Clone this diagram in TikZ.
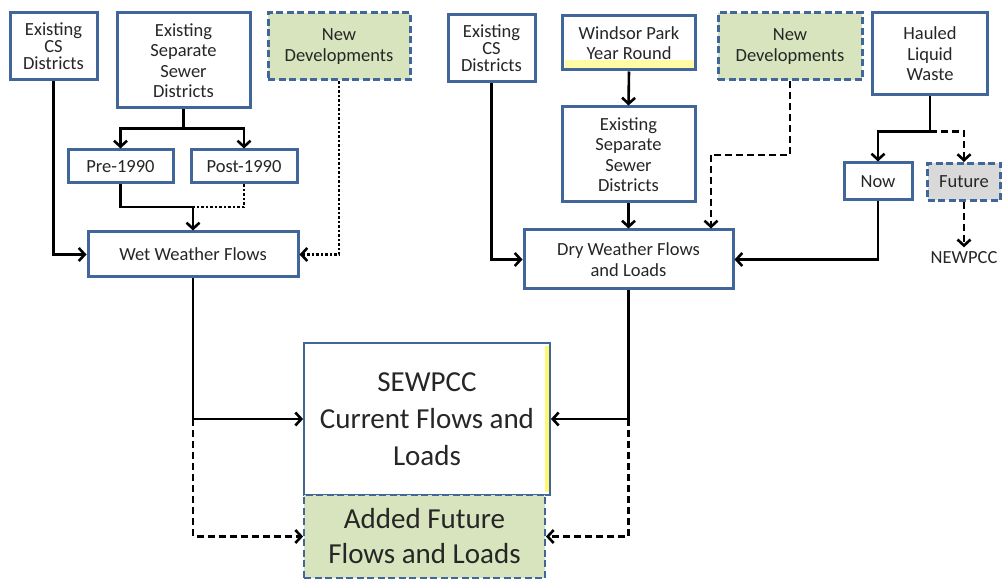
\documentclass[tikz,border=0pt]{standalone}
\usepackage{fontspec}
\setmainfont{Carlito}
\usetikzlibrary{arrows.meta, positioning}
\definecolor{boxline}{HTML}{41679A}
\definecolor{newfill}{HTML}{D7E4BD}
\definecolor{futfill}{HTML}{D9D9D9}
\tikzstyle{blk}=[draw=boxline, line width=3pt, fill=white, align=center, inner sep=0pt,
  text=black!85, font=\fontsize{18.5}{20.5}\selectfont]
\tikzstyle{newblk}=[blk, fill=newfill, dash pattern=on 7pt off 3.5pt]
\tikzstyle{flow}=[line width=2.6pt, >={Straight Barb[length=6pt,width=13pt]}]

\begin{document}
\begin{tikzpicture}[x=1pt, y=-1pt, flow]
  \useasboundingbox (0,0) rectangle (1002,580);
  % wet weather side
  \node[blk, minimum width=87, minimum height=67, font=\fontsize{18.5}{17}\selectfont] (cs1) at (53.5,46.5) {Existing\\CS\\Districts};
  \node[blk, minimum width=133, minimum height=95] (sep1) at (183.5,60.5) {Existing\\Separate\\Sewer\\Districts};
  \node[newblk, minimum width=142, minimum height=67] (new1) at (339,46.5) {New\\Developments};
  \node[blk, minimum width=105, minimum height=33] (pre) at (120.5,166.5) {Pre-1990};
  \node[blk, minimum width=106, minimum height=33] (post) at (244,166.5) {Post-1990};
  \node[blk, minimum width=210, minimum height=45] (wet) at (193,254.5) {Wet Weather Flows};
  % dry weather side
  \node[blk, minimum width=87, minimum height=67, font=\fontsize{18.5}{17}\selectfont] (cs2) at (491.5,48.5) {Existing\\CS\\Districts};
  \node[blk, minimum width=133, minimum height=54] (wind) at (629,43) {Windsor Park\\Year Round};
  \node[blk, minimum width=133, minimum height=95] (sep2) at (628.5,154.5) {Existing\\Separate\\Sewer\\Districts};
  \node[blk, minimum width=209, minimum height=59] (dry) at (628.5,259.5) {Dry Weather Flows\\and Loads};
  \node[newblk, minimum width=144, minimum height=67] (new2) at (790,46.5) {New\\Developments};
  \node[blk, minimum width=115, minimum height=82] (haul) at (930,54) {Hauled\\Liquid\\Waste};
  \node[blk, minimum width=68, minimum height=37] (now) at (878,181.5) {Now};
  \node[newblk, fill=futfill, minimum width=73, minimum height=37] (fut) at (964,182) {Future};
  \node[text=black!85, font=\fontsize{18.5}{20}\selectfont] (newpcc) at (964,258) {NEWPCC};
  % plant
  \node[blk, line width=1.8pt, minimum width=246, minimum height=152, font=\fontsize{29}{37}\selectfont] (sew) at (427,419) {SEWPCC\\Current Flows and\\Loads};
  \node[newblk, line width=1.8pt, minimum width=241, minimum height=83, font=\fontsize{29}{35}\selectfont] (add) at (424.5,536.5) {Added Future\\Flows and Loads};
  \fill[yellow!35] (565,60) rectangle (694,68);
  \fill[yellow!55] (545,346) rectangle (548.5,492);

  % connectors, left
  \draw (sep1.south) -- ++(0,19) coordinate (b1);
  \draw[->] (b1) -| (pre.north);
  \draw[->] (b1) -| (post.north);
  \coordinate (j1) at (193,207);
  \draw (pre.south) |- (j1);
  \draw[dash pattern=on 2.5pt off 2pt] (post.south) |- (j1);
  \draw[->] (j1) -- (wet.north);
  \draw[->] (cs1.south) |- (wet.west);
  \draw[->, dash pattern=on 2.5pt off 2pt] (new1.south) |- (wet.east);
  \draw[->] (wet.south) |- (sew.west);
  \draw[->, dash pattern=on 7pt off 4pt] (wet.south |- sew.west) |- (add.west);
  % connectors, right
  \draw[->] (wind.south) -- (sep2.north);
  \draw[->] (sep2.south) -- (dry.north);
  \draw[->] (cs2.south) |- (dry.west);
  \coordinate (j2) at (711,155);
  \draw[dash pattern=on 7pt off 4pt] (new2.south) |- (j2);
  \draw[->, dash pattern=on 7pt off 4pt] (j2) -- (j2 |- dry.north);
  \draw (haul.south) -- ++(0,35) coordinate (b2);
  \draw[->] (b2) -| (now.north);
  \draw[->, dash pattern=on 7pt off 4pt] (b2) -| (fut.north);
  \draw[->, dash pattern=on 7pt off 4pt] (fut.south) -- (newpcc.north);
  \draw[->] (now.south) |- (dry.east);
  \draw[->] (dry.south) |- (sew.east);
  \draw[->, dash pattern=on 7pt off 4pt] (dry.south |- sew.east) |- (add.east);
\end{tikzpicture}
\end{document}
